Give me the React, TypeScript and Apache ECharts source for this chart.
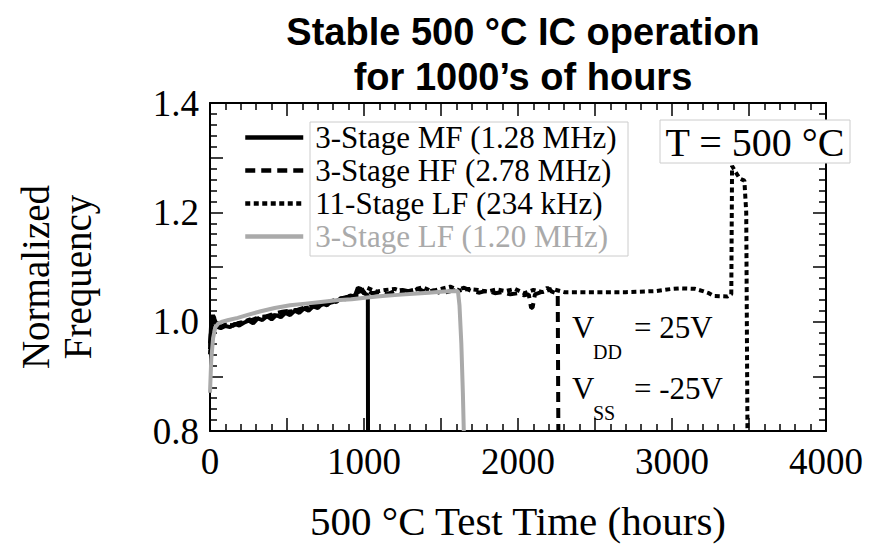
import React, { useEffect, useRef } from "react";
import * as echarts from "echarts";

// ---- data ----
const seriesNames = [
  "3-Stage MF (1.28 MHz)",
  "3-Stage HF (2.78 MHz)",
  "11-Stage LF (234 kHz)",
  "3-Stage LF (1.20 MHz)",
];

const mfTime = [0, 8, 20, 35, 50, 70, 100, 130, 160, 190, 220, 250, 280, 310, 340, 370, 400, 430, 460, 490, 520, 550, 580, 610, 640, 670, 700, 730, 760, 790, 820, 850, 880, 910, 940, 960, 980, 1000, 1015, 1025, 1026];
const mfFreq = [0.95, 1.0, 1.012, 1.0, 0.99, 0.988, 0.992, 0.99, 0.996, 0.993, 0.998, 1.002, 0.997, 1.006, 1.003, 1.01, 1.004, 1.012, 1.008, 1.016, 1.012, 1.02, 1.016, 1.024, 1.02, 1.028, 1.025, 1.033, 1.03, 1.038, 1.036, 1.043, 1.041, 1.048, 1.046, 1.062, 1.06, 1.052, 1.05, 1.048, 0.8];

const hfTime = [0, 10, 25, 45, 70, 100, 140, 180, 220, 270, 320, 370, 420, 470, 520, 570, 620, 670, 720, 770, 820, 870, 920, 970, 1010, 1050, 1100, 1150, 1200, 1250, 1300, 1350, 1400, 1450, 1500, 1550, 1600, 1650, 1700, 1750, 1800, 1850, 1900, 1950, 2000, 2040, 2070, 2085, 2095, 2110, 2150, 2190, 2220, 2250, 2258, 2262];
const hfFreq = [0.96, 0.995, 1.005, 0.995, 0.99, 0.994, 0.992, 0.997, 1.0, 1.003, 1.008, 1.01, 1.015, 1.018, 1.02, 1.022, 1.026, 1.03, 1.033, 1.036, 1.04, 1.044, 1.047, 1.055, 1.06, 1.052, 1.054, 1.05, 1.056, 1.058, 1.055, 1.06, 1.054, 1.057, 1.052, 1.055, 1.058, 1.062, 1.056, 1.053, 1.057, 1.052, 1.054, 1.05, 1.052, 1.048, 1.05, 1.025, 1.026, 1.05, 1.054, 1.062, 1.055, 1.052, 1.052, 0.8];

const lfTime = [0, 10, 25, 45, 70, 100, 150, 200, 260, 320, 380, 440, 500, 560, 620, 680, 740, 800, 860, 920, 980, 1020, 1080, 1140, 1200, 1260, 1320, 1380, 1440, 1500, 1560, 1620, 1680, 1740, 1800, 1860, 1920, 1980, 2040, 2100, 2160, 2220, 2300, 2500, 2700, 2900, 3000, 3050, 3150, 3200, 3240, 3270, 3360, 3385, 3390, 3410, 3440, 3470, 3482, 3490];
const lfFreq = [0.94, 0.99, 1.008, 0.998, 0.99, 0.995, 0.993, 0.998, 1.004, 1.006, 1.01, 1.013, 1.018, 1.02, 1.025, 1.028, 1.032, 1.036, 1.042, 1.047, 1.05, 1.062, 1.055, 1.058, 1.06, 1.054, 1.058, 1.063, 1.056, 1.06, 1.064, 1.057, 1.06, 1.058, 1.055, 1.059, 1.056, 1.06, 1.052, 1.058, 1.054, 1.06, 1.054, 1.054, 1.054, 1.056, 1.06, 1.061, 1.06, 1.056, 1.052, 1.047, 1.046, 1.05, 1.285, 1.275, 1.262, 1.258, 1.2, 0.8];

const grayTime = [0, 8, 20, 35, 55, 80, 120, 180, 250, 330, 420, 520, 620, 720, 820, 920, 1020, 1120, 1220, 1320, 1420, 1520, 1610, 1620, 1632, 1642, 1648];
const grayFreq = [0.87, 0.93, 0.97, 0.99, 0.997, 1.0, 1.003, 1.007, 1.013, 1.019, 1.025, 1.03, 1.033, 1.036, 1.039, 1.041, 1.044, 1.047, 1.049, 1.051, 1.053, 1.055, 1.056, 1.03, 0.96, 0.87, 0.8];

const xTickLabels = ["0", "1000", "2000", "3000", "4000"];
const yTickLabels = ["0.8", "1.0", "1.2", "1.4"];

const titleText = "Stable 500 °C IC operation\nfor 1000’s of hours";
const xName = "500 °C Test Time (hours)";
const yName = "Normalized\nFrequency";

const pair = (t: number[], f: number[]) => t.map((v, i) => [v, f[i]]);

const SERIF = "'Liberation Serif', 'Times New Roman', serif";
const SANS = "'Liberation Sans', Arial, sans-serif";

export default function App() {
  const ref = useRef<HTMLDivElement>(null);

  useEffect(() => {
    document.body.style.margin = "0";
    if (!ref.current) return;
    const chart = echarts.init(ref.current, undefined, { renderer: "svg" });

    const axisCommon = {
      type: "value" as const,
      axisLine: { show: true, onZero: false, lineStyle: { color: "#000", width: 2 } },
      axisTick: { show: true, inside: true, length: 13, lineStyle: { color: "#000", width: 1.5 } },
      minorTick: { show: true, splitNumber: 5, length: 7, lineStyle: { color: "#000", width: 1.5 } },
      splitLine: { show: false },
      minorSplitLine: { show: false },
    };

    const xCommon = { ...axisCommon, min: 0, max: 4000, interval: 500 };
    const yCommon = { ...axisCommon, min: 0.8, max: 1.4, interval: 0.1 };

    const lineSeries = (name: string, data: number[][], color: string, type: any, width: number) => ({
      name,
      type: "line" as const,
      data,
      symbol: "none",
      showSymbol: false,
      lineStyle: { color, type, width },
      itemStyle: { color },
      clip: true,
    });

    chart.setOption({
      animation: false,
      backgroundColor: "#fff",
      title: {
        text: titleText,
        left: 518,
        top: 4,
        textAlign: "center",
        textStyle: { fontFamily: SANS, fontWeight: "bold", fontSize: 38, lineHeight: 45, color: "#000" },
      },
      grid: { left: 210, right: 56, top: 103, bottom: 114 },
      xAxis: [
        {
          ...xCommon,
          position: "bottom",
          axisLabel: {
            show: true,
            margin: 12,
            fontFamily: SERIF,
            fontSize: 37,
            color: "#000",
            formatter: (v: number) => (xTickLabels.includes(String(v)) ? String(v) : ""),
          },
        },
        { ...xCommon, position: "top", axisLabel: { show: false } },
      ],
      yAxis: [
        {
          ...yCommon,
          position: "left",
          axisLabel: {
            show: true,
            margin: 11,
            fontFamily: SERIF,
            fontSize: 37,
            color: "#000",
            formatter: (v: number) => {
              const s = v.toFixed(1);
              return yTickLabels.includes(s) ? s : "";
            },
          },
        },
        { ...yCommon, position: "right", axisLabel: { show: false } },
      ],
      legend: {
        orient: "vertical",
        left: 243,
        top: 121,
        itemWidth: 58,
        itemHeight: 14,
        itemGap: 0,
        padding: 0,
        itemStyle: { opacity: 0 },
        lineStyle: { width: 4.5 },
        textStyle: { fontFamily: SERIF, fontSize: 31, color: "#000", lineHeight: 33, padding: [0, 0, 0, 7] },
        data: [
          { name: seriesNames[0] },
          { name: seriesNames[1] },
          { name: seriesNames[2] },
          { name: seriesNames[3], textStyle: { color: "#aaaaaa" } },
        ],
        z: 10,
      },
      graphic: [
        {
          type: "rect",
          shape: { x: 310, y: 122, width: 318, height: 134 },
          style: { fill: "#fff", stroke: "#cccccc", lineWidth: 1 },
          z: 5,
        },
        {
          type: "rect",
          shape: { x: 660, y: 120, width: 190, height: 43 },
          style: { fill: "#fff", stroke: "#cccccc", lineWidth: 1 },
          z: 5,
        },
        {
          type: "text",
          x: 755,
          y: 142,
          z: 6,
          style: { text: "T = 500 °C", fontFamily: SERIF, fontSize: 40, fill: "#000", textAlign: "center", textVerticalAlign: "middle" },
        },
        {
          type: "text", x: 572, y: 327, z: 6,
          style: { text: "V", fontFamily: SERIF, fontSize: 31, fill: "#000", textAlign: "left", textVerticalAlign: "middle" },
        },
        {
          type: "text", x: 593, y: 352, z: 6,
          style: { text: "DD", fontFamily: SERIF, fontSize: 20, fill: "#000", textAlign: "left", textVerticalAlign: "middle" },
        },
        {
          type: "text", x: 634, y: 327, z: 6,
          style: { text: "= 25V", fontFamily: SERIF, fontSize: 31, fill: "#000", textAlign: "left", textVerticalAlign: "middle" },
        },
        {
          type: "text", x: 572, y: 388, z: 6,
          style: { text: "V", fontFamily: SERIF, fontSize: 31, fill: "#000", textAlign: "left", textVerticalAlign: "middle" },
        },
        {
          type: "text", x: 593, y: 413, z: 6,
          style: { text: "SS", fontFamily: SERIF, fontSize: 20, fill: "#000", textAlign: "left", textVerticalAlign: "middle" },
        },
        {
          type: "text", x: 634, y: 388, z: 6,
          style: { text: "= -25V", fontFamily: SERIF, fontSize: 31, fill: "#000", textAlign: "left", textVerticalAlign: "middle" },
        },
        {
          type: "text", x: 518, y: 521, z: 6,
          style: { text: xName, fontFamily: SERIF, fontSize: 41, fill: "#000", textAlign: "center", textVerticalAlign: "middle" },
        },
        {
          type: "text", x: 56, y: 277, rotation: Math.PI / 2, z: 6,
          style: { text: yName, fontFamily: SERIF, fontSize: 39, lineHeight: 42, fill: "#000", textAlign: "center", textVerticalAlign: "middle" },
        },
      ],
      series: [
        lineSeries(seriesNames[0], pair(mfTime, mfFreq), "#000", "solid", 4),
        lineSeries(seriesNames[1], pair(hfTime, hfFreq), "#000", [10, 6], 4),
        lineSeries(seriesNames[2], pair(lfTime, lfFreq), "#000", [5, 3.5], 4),
        lineSeries(seriesNames[3], pair(grayTime, grayFreq), "#aaaaaa", "solid", 4),
      ],
    });

    return () => chart.dispose();
  }, []);

  return <div ref={ref} style={{ width: 882, height: 545 }} />;
}
